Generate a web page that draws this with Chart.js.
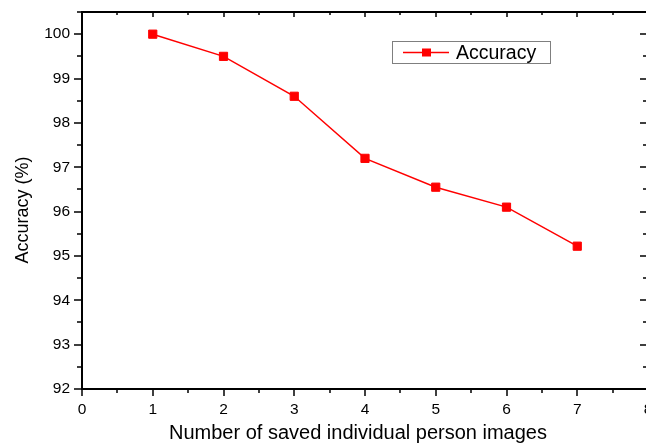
<!DOCTYPE html>
<html>
<head>
<meta charset="utf-8">
<script src="https://cdn.jsdelivr.net/npm/chart.js"></script>
<style>
  html, body { margin: 0; padding: 0; overflow: hidden; background: #fff; width: 646px; height: 443px; }
  #wrap { position: absolute; left: 0; top: 0; width: 660px; height: 443px; }
</style>
</head>
<body>
<div id="wrap"><canvas id="myChart" width="660" height="443"></canvas></div>
<script>
const imageCounts = [1, 2, 3, 4, 5, 6, 7];
const accuracy = [100, 99.5, 98.6, 97.2, 96.55, 96.1, 95.22];
const seriesLabel = 'Accuracy';
const xTitle = 'Number of saved individual person images';
const yTitle = 'Accuracy (%)';
const xRange = [0, 8];
const yRange = [92, 100.5];

const FONT = '"Liberation Sans", Arial, Helvetica, sans-serif';
const RED = '#ff0000';

// Origin style box: frame on all four sides, major + minor ticks, axis titles, boxed legend
const originFrame = {
  id: 'originFrame',
  afterDraw(chart) {
    const ctx = chart.ctx;
    const a = chart.chartArea;
    const xs = chart.scales.x, ys = chart.scales.y;
    ctx.save();
    ctx.strokeStyle = '#000';
    ctx.lineWidth = 1.5;
    ctx.beginPath();
    for (let v = xRange[0]; v <= xRange[1]; v += 0.5) {
      const px = Math.round(xs.getPixelForValue(v));
      const major = v % 1 === 0;
      ctx.moveTo(px, a.bottom); ctx.lineTo(px, a.bottom + (major ? 7 : 4));
      ctx.moveTo(px, a.top); ctx.lineTo(px, a.top + (major ? 5 : 3));
    }
    for (let v = yRange[0]; v <= yRange[1]; v += 0.5) {
      const py = Math.round(ys.getPixelForValue(v));
      const major = v % 1 === 0;
      ctx.moveTo(a.left, py); ctx.lineTo(a.left - (major ? 8 : 5), py);
      ctx.moveTo(a.right, py); ctx.lineTo(a.right - (major ? 8 : 5), py);
    }
    ctx.stroke();
    ctx.lineWidth = 2;
    ctx.strokeRect(a.left, a.top, a.right - a.left, a.bottom - a.top);

    // axis titles (slightly off-centre in the original)
    ctx.fillStyle = '#000';
    ctx.textAlign = 'center';
    ctx.textBaseline = 'middle';
    ctx.font = '20px ' + FONT;
    ctx.fillText(xTitle, 358, 433);
    ctx.save();
    ctx.translate(23, 210);
    ctx.rotate(-Math.PI / 2);
    ctx.font = '18px ' + FONT;
    ctx.fillText(yTitle, 0, 0);
    ctx.restore();

    // legend
    const bx = 392.5, by = 41.5, bw = 158, bh = 22;
    const cy = by + bh / 2;
    ctx.lineWidth = 1;
    ctx.strokeStyle = '#7f7f7f';
    ctx.strokeRect(bx, by, bw, bh);
    ctx.strokeStyle = RED;
    ctx.lineWidth = 1.5;
    ctx.beginPath();
    ctx.moveTo(403, cy); ctx.lineTo(449, cy);
    ctx.stroke();
    ctx.fillStyle = RED;
    ctx.fillRect(422, cy - 4, 9, 8);
    ctx.fillStyle = '#000';
    ctx.font = '19.5px ' + FONT;
    ctx.textAlign = 'left';
    ctx.fillText(chart.data.datasets[0].label, 456, cy + 1);
    ctx.restore();
  }
};

Chart.defaults.font.family = FONT;
Chart.defaults.color = '#000';

const ctx = document.getElementById('myChart').getContext('2d');
new Chart(ctx, {
  type: 'line',
  data: {
    datasets: [{
      label: seriesLabel,
      data: imageCounts.map((x, i) => ({ x: x, y: accuracy[i] })),
      borderColor: RED,
      backgroundColor: RED,
      borderWidth: 1.5,
      pointStyle: 'rect',
      pointRadius: 5.8,
      pointBorderWidth: 1,
      pointBorderColor: RED,
      pointBackgroundColor: RED,
      tension: 0,
      fill: false
    }]
  },
  options: {
    responsive: false,
    animation: false,
    devicePixelRatio: 1,
    layout: { padding: { top: 12, right: 12, left: 0, bottom: 0 } },
    plugins: { legend: { display: false }, tooltip: { enabled: false } },
    scales: {
      x: {
        type: 'linear',
        min: xRange[0],
        max: xRange[1],
        grid: { display: false, drawTicks: false },
        border: { display: false },
        ticks: { stepSize: 1, font: { size: 15.5 }, color: '#000', padding: 11, maxRotation: 0 },
        title: { display: false, text: xTitle },
        afterFit(s) { s.height = 54; s.paddingLeft = 0; s.paddingRight = 0; }
      },
      y: {
        type: 'linear',
        min: yRange[0],
        max: yRange[1],
        grid: { display: false, drawTicks: false },
        border: { display: false },
        ticks: { stepSize: 1, includeBounds: false, font: { size: 15.5 }, color: '#000', padding: 12 },
        title: { display: false, text: yTitle },
        afterFit(s) { s.width = 82; s.paddingTop = 0; s.paddingBottom = 0; }
      }
    }
  },
  plugins: [originFrame]
});
</script>
</body>
</html>
